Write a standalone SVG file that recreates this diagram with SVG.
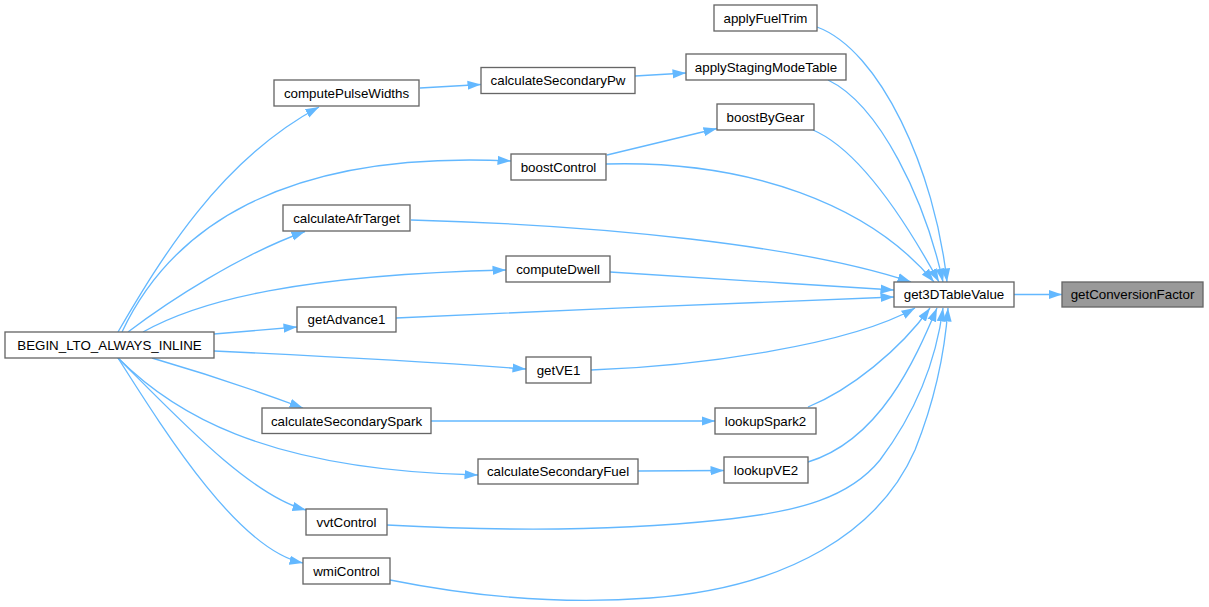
<svg xmlns="http://www.w3.org/2000/svg" width="1209" height="607" viewBox="0 0 1209 607">
<style>
.n rect{fill:#ffffff;stroke:#666666;stroke-width:1.33}
.n.hl rect{fill:#999999}
.n text{font-family:"Liberation Sans",Arial,sans-serif;font-size:13.33px;fill:#000000;text-anchor:middle}
.e path{fill:none;stroke:#63b8ff;stroke-width:1.33;marker-end:url(#ah)}
</style>
<defs>
<marker id="ah" markerUnits="userSpaceOnUse" markerWidth="14" markerHeight="10" viewBox="0 0 14 10" refX="13.5" refY="5" orient="auto">
<path d="M0,0.4 L13.5,5 L0,9.6 Z" fill="#63b8ff"/>
</marker>
</defs>
<rect width="1209" height="607" fill="#ffffff"/>
<g id="edges" class="e">
<path d="M1014,294.5 L1062,294.5"/>
<path d="M817,27 C880,50 935,170 947,282"/>
<path d="M828,80 C880,105 925,200 943,282"/>
<path d="M813,130 C860,150 905,220 939,282"/>
<path d="M606,164 C750,160 870,205 934,282"/>
<path d="M411,220 C600,225 800,245 911,282"/>
<path d="M610,272 C700,278 800,284 894,290"/>
<path d="M396,318 C550,311 750,302 894,297"/>
<path d="M591,370 C700,366 850,345 915,308"/>
<path d="M808,407 C850,390 900,350 930,308"/>
<path d="M808,462 C880,440 915,360 937,308"/>
<path d="M387,525 C480,530 600,533 720,520 C800,512 850,497 880,460 C910,420 935,370 943,308"/>
<path d="M390,580 C470,596 560,605 650,598 C790,588 880,530 915,450 C935,400 945,350 948,308"/>
<path d="M635,76 L686,73"/>
<path d="M420,88 L481,84.5"/>
<path d="M607,155 L717,128.5"/>
<path d="M118,332 C160,260 220,160 319,107"/>
<path d="M122,332 C170,230 280,150 511,161"/>
<path d="M128,332 C170,300 240,255 305,231.5"/>
<path d="M143,332 C200,300 300,275 506,270"/>
<path d="M214,334 L297,327"/>
<path d="M214,351 C320,356 430,362 526,369"/>
<path d="M152,358 C200,372 260,392 303,408"/>
<path d="M118,358 C170,410 260,470 478,475"/>
<path d="M118,358 C180,420 250,495 306,510"/>
<path d="M118,358 C170,440 240,550 303,563"/>
<path d="M431,421 L715,421"/>
<path d="M638,471 L724,470.5"/>
</g>
<g id="getConversionFactor" class="n hl"><rect x="1062" y="282" width="141" height="25"/><text x="1132.5" y="299">getConversionFactor</text></g>
<g id="get3DTableValue" class="n"><rect x="894" y="282" width="120" height="25"/><text x="954" y="299">get3DTableValue</text></g>
<g id="applyFuelTrim" class="n"><rect x="714" y="5" width="103" height="26"/><text x="765.5" y="22.5">applyFuelTrim</text></g>
<g id="applyStagingModeTable" class="n"><rect x="686" y="54" width="160" height="26"/><text x="766" y="71.5">applyStagingModeTable</text></g>
<g id="boostByGear" class="n"><rect x="717" y="104" width="97" height="26"/><text x="765.5" y="121.5">boostByGear</text></g>
<g id="calculateSecondaryPw" class="n"><rect x="481" y="67.5" width="154" height="26"/><text x="558" y="85">calculateSecondaryPw</text></g>
<g id="computePulseWidths" class="n"><rect x="274" y="80" width="145" height="26"/><text x="346.5" y="97.5">computePulseWidths</text></g>
<g id="boostControl" class="n"><rect x="511" y="154" width="95" height="26"/><text x="558.5" y="171.5">boostControl</text></g>
<g id="calculateAfrTarget" class="n"><rect x="283" y="205" width="127" height="26"/><text x="346.5" y="222.5">calculateAfrTarget</text></g>
<g id="computeDwell" class="n"><rect x="506" y="256" width="104" height="26"/><text x="558" y="273.5">computeDwell</text></g>
<g id="getAdvance1" class="n"><rect x="297" y="307" width="99" height="25"/><text x="346.5" y="324">getAdvance1</text></g>
<g id="BEGIN_LTO_ALWAYS_INLINE" class="n"><rect x="5" y="332" width="209" height="26"/><text x="109.5" y="349.5">BEGIN_LTO_ALWAYS_INLINE</text></g>
<g id="getVE1" class="n"><rect x="526" y="357" width="65" height="26"/><text x="558.5" y="374.5">getVE1</text></g>
<g id="calculateSecondarySpark" class="n"><rect x="262" y="408" width="169" height="25.5"/><text x="346.5" y="425.5">calculateSecondarySpark</text></g>
<g id="lookupSpark2" class="n"><rect x="715" y="408" width="101" height="26"/><text x="765.5" y="425.5">lookupSpark2</text></g>
<g id="calculateSecondaryFuel" class="n"><rect x="478" y="459" width="160" height="25"/><text x="558" y="476">calculateSecondaryFuel</text></g>
<g id="lookupVE2" class="n"><rect x="724" y="457" width="84" height="26"/><text x="766" y="474.5">lookupVE2</text></g>
<g id="vvtControl" class="n"><rect x="306" y="509" width="81" height="26"/><text x="346.5" y="526.5">vvtControl</text></g>
<g id="wmiControl" class="n"><rect x="303" y="558" width="87" height="26"/><text x="346.5" y="575.5">wmiControl</text></g>
</svg>
